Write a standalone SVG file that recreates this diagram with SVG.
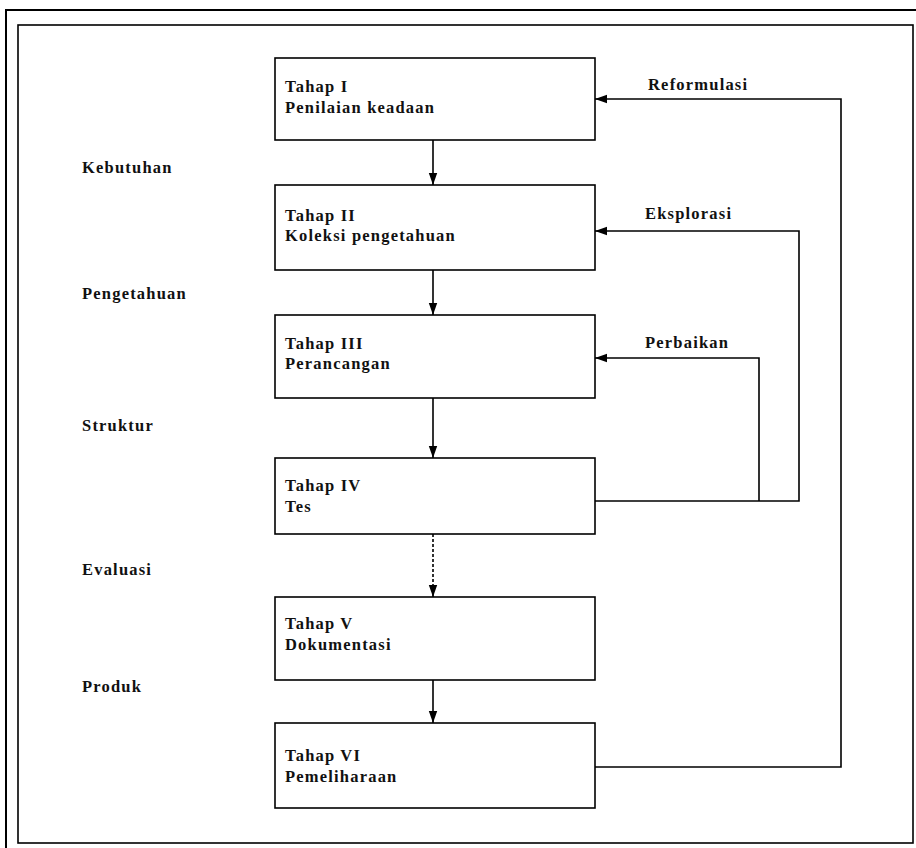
<svg xmlns="http://www.w3.org/2000/svg" width="916" height="848" viewBox="0 0 916 848">
<defs>
<style>
.box{fill:#fff;stroke:#000;stroke-width:1.6}
.t{font-family:"Liberation Serif","Times New Roman",serif;font-size:16.5px;font-weight:bold;fill:#111;letter-spacing:1.2px}
.ln{fill:none;stroke:#000;stroke-width:1.6}
</style>
<marker id="ahL" viewBox="0 0 10 10" refX="10" refY="5" markerWidth="12" markerHeight="12" orient="auto" markerUnits="userSpaceOnUse">
<path d="M0,1.5 L10,5 L0,8.5 z" fill="#000"/>
</marker>
</defs>
<rect width="916" height="848" fill="#fff"/>
<g id="frame">
<polyline points="6,848 6,10 916,10" fill="none" stroke="#000" stroke-width="2"/>
<rect x="18" y="25" width="895" height="818" fill="none" stroke="#000" stroke-width="1.6"/>
</g>
<g id="connectors">
<line class="ln" x1="433" y1="140" x2="433" y2="185" marker-end="url(#ahL)"/>
<line class="ln" x1="433" y1="270" x2="433" y2="315" marker-end="url(#ahL)"/>
<line class="ln" x1="433" y1="398" x2="433" y2="458" marker-end="url(#ahL)"/>
<line class="ln" x1="433" y1="534" x2="433" y2="597" stroke-dasharray="3,2" marker-end="url(#ahL)"/>
<line class="ln" x1="433" y1="680" x2="433" y2="723" marker-end="url(#ahL)"/>
<polyline class="ln" points="595,767 841,767 841,99 595,99" marker-end="url(#ahL)"/>
<polyline class="ln" points="595,501 799,501 799,231 595,231" marker-end="url(#ahL)"/>
<polyline class="ln" points="759,501 759,358 595,358" marker-end="url(#ahL)"/>
<text class="t" x="648" y="90">Reformulasi</text>
<text class="t" x="645" y="219">Eksplorasi</text>
<text class="t" x="645" y="348">Perbaikan</text>
</g>
<g id="labels">
<text class="t" x="82" y="173">Kebutuhan</text>
<text class="t" x="82" y="299">Pengetahuan</text>
<text class="t" x="82" y="431">Struktur</text>
<text class="t" x="82" y="575">Evaluasi</text>
<text class="t" x="82" y="692">Produk</text>
</g>
<g id="tahap1">
<rect class="box" x="275" y="58" width="320" height="82"/>
<text class="t" x="285" y="92">Tahap I</text>
<text class="t" x="285" y="113">Penilaian keadaan</text>
</g>
<g id="tahap2">
<rect class="box" x="275" y="185" width="320" height="85"/>
<text class="t" x="285" y="221">Tahap II</text>
<text class="t" x="285" y="241">Koleksi pengetahuan</text>
</g>
<g id="tahap3">
<rect class="box" x="275" y="315" width="320" height="83"/>
<text class="t" x="285" y="349">Tahap III</text>
<text class="t" x="285" y="369">Perancangan</text>
</g>
<g id="tahap4">
<rect class="box" x="275" y="458" width="320" height="76"/>
<text class="t" x="285" y="491">Tahap IV</text>
<text class="t" x="285" y="512">Tes</text>
</g>
<g id="tahap5">
<rect class="box" x="275" y="597" width="320" height="83"/>
<text class="t" x="285" y="629">Tahap V</text>
<text class="t" x="285" y="650">Dokumentasi</text>
</g>
<g id="tahap6">
<rect class="box" x="275" y="723" width="320" height="85"/>
<text class="t" x="285" y="761">Tahap VI</text>
<text class="t" x="285" y="782">Pemeliharaan</text>
</g>
</svg>
